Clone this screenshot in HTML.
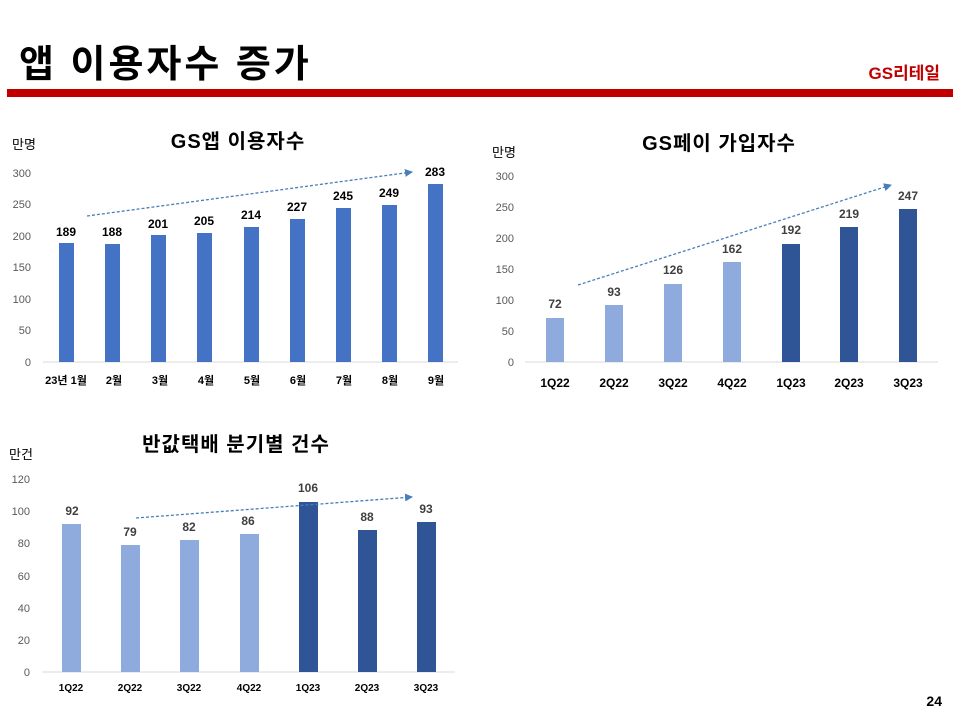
<!DOCTYPE html>
<html><head><meta charset="utf-8"><style>
html,body{margin:0;padding:0;background:#fff;}
svg{display:block;}
text{font-family:"Liberation Sans","Noto Sans CJK KR",sans-serif;}
.c{font-size:11px;font-weight:bold;fill:#000;}
.v{font-size:12px;font-weight:bold;fill:#000;}
.v2{font-size:12px;font-weight:bold;fill:#404040;}
.h{font-size:20px;font-weight:bold;fill:#000;letter-spacing:1px;}
.u{font-size:13px;fill:#000;}
</style></head><body>
<svg width="960" height="720" viewBox="0 0 960 720" xmlns="http://www.w3.org/2000/svg">
<defs><marker id="ar" markerWidth="8" markerHeight="8" refX="7" refY="4" orient="auto" markerUnits="userSpaceOnUse"><path d="M0,0 L8,4 L0,8 z" fill="#4a7ebb"/></marker></defs>
<text x="19" y="77" style="font-size:38px;font-weight:bold;fill:#000;letter-spacing:3px">앱 이용자수 증가</text>
<text x="940" y="79" text-anchor="end" style="font-size:17px;font-weight:bold;fill:#c00000">GS리테일</text>
<rect x="7" y="89" width="946" height="8" fill="#c00000"/>

<!-- Chart 1 -->
<text x="12" y="149" class="u">만명</text>
<text x="238" y="148" text-anchor="middle" class="h">GS앱 이용자수</text>
<g text-anchor="end" style="font-size:11px;fill:#595959">
<text x="31" y="366">0</text><text x="31" y="334">50</text><text x="31" y="303">100</text><text x="31" y="271">150</text><text x="31" y="240">200</text><text x="31" y="208">250</text><text x="31" y="177">300</text>
</g>
<line x1="43" y1="362" x2="458" y2="362" stroke="#d9d9d9"/>
<g fill="#4472c4">
<rect x="59" y="243" width="15" height="119"/><rect x="105" y="244" width="15" height="118"/><rect x="151" y="235" width="15" height="127"/><rect x="197" y="233" width="15" height="129"/><rect x="244" y="227" width="15" height="135"/><rect x="290" y="219" width="15" height="143"/><rect x="336" y="208" width="15" height="154"/><rect x="382" y="205" width="15" height="157"/><rect x="428" y="184" width="15" height="178"/>
</g>
<g class="v" text-anchor="middle">
<text x="66" y="236">189</text><text x="112" y="236">188</text><text x="158" y="228">201</text><text x="204" y="225">205</text><text x="251" y="219">214</text><text x="297" y="211">227</text><text x="343" y="200">245</text><text x="389" y="197">249</text><text x="435" y="176">283</text>
</g>
<g class="c" text-anchor="middle">
<text x="66" y="384">23년 1월</text><text x="114" y="384">2월</text><text x="160" y="384">3월</text><text x="206" y="384">4월</text><text x="252" y="384">5월</text><text x="298" y="384">6월</text><text x="344" y="384">7월</text><text x="390" y="384">8월</text><text x="436" y="384">9월</text>
</g>
<line x1="87" y1="216" x2="412" y2="172" stroke="#4a7ebb" stroke-width="1.3" stroke-dasharray="3,2" marker-end="url(#ar)"/>

<!-- Chart 2 -->
<text x="492" y="157" class="u">만명</text>
<text x="719" y="150" text-anchor="middle" class="h">GS페이 가입자수</text>
<g text-anchor="end" style="font-size:11px;fill:#595959">
<text x="514" y="366">0</text><text x="514" y="335">50</text><text x="514" y="304">100</text><text x="514" y="273">150</text><text x="514" y="242">200</text><text x="514" y="211">250</text><text x="514" y="180">300</text>
</g>
<line x1="525" y1="362" x2="938" y2="362" stroke="#d9d9d9"/>
<g fill="#8faadc">
<rect x="546" y="318" width="18" height="44"/><rect x="605" y="305" width="18" height="57"/><rect x="664" y="284" width="18" height="78"/><rect x="723" y="262" width="18" height="100"/>
</g>
<g fill="#2f5597">
<rect x="782" y="244" width="18" height="118"/><rect x="840" y="227" width="18" height="135"/><rect x="899" y="209" width="18" height="153"/>
</g>
<g class="v2" text-anchor="middle">
<text x="555" y="308">72</text><text x="614" y="296">93</text><text x="673" y="274">126</text><text x="732" y="253">162</text><text x="791" y="234">192</text><text x="849" y="218">219</text><text x="908" y="200">247</text>
</g>
<g class="c" text-anchor="middle" style="font-size:12px">
<text x="555" y="387">1Q22</text><text x="614" y="387">2Q22</text><text x="673" y="387">3Q22</text><text x="732" y="387">4Q22</text><text x="791" y="387">1Q23</text><text x="849" y="387">2Q23</text><text x="908" y="387">3Q23</text>
</g>
<line x1="578" y1="285" x2="891" y2="185" stroke="#4a7ebb" stroke-width="1.3" stroke-dasharray="3,2" marker-end="url(#ar)"/>

<!-- Chart 3 -->
<text x="9" y="459" class="u">만건</text>
<text x="236" y="451" text-anchor="middle" class="h">반값택배 분기별 건수</text>
<g text-anchor="end" style="font-size:11px;fill:#595959">
<text x="30" y="676">0</text><text x="30" y="644">20</text><text x="30" y="612">40</text><text x="30" y="580">60</text><text x="30" y="547">80</text><text x="30" y="515">100</text><text x="30" y="483">120</text>
</g>
<line x1="42" y1="672" x2="455" y2="672" stroke="#d9d9d9"/>
<g fill="#8faadc">
<rect x="62" y="524" width="19" height="148"/><rect x="121" y="545" width="19" height="127"/><rect x="180" y="540" width="19" height="132"/><rect x="240" y="534" width="19" height="138"/>
</g>
<g fill="#2f5597">
<rect x="299" y="502" width="19" height="170"/><rect x="358" y="530" width="19" height="142"/><rect x="417" y="522" width="19" height="150"/>
</g>
<g class="v2" text-anchor="middle">
<text x="72" y="515">92</text><text x="130" y="536">79</text><text x="189" y="531">82</text><text x="248" y="525">86</text><text x="308" y="492">106</text><text x="367" y="521">88</text><text x="426" y="513">93</text>
</g>
<g class="c" text-anchor="middle" style="font-size:10px">
<text x="71" y="691">1Q22</text><text x="130" y="691">2Q22</text><text x="189" y="691">3Q22</text><text x="249" y="691">4Q22</text><text x="308" y="691">1Q23</text><text x="367" y="691">2Q23</text><text x="426" y="691">3Q23</text>
</g>
<line x1="136" y1="518" x2="412" y2="497" stroke="#4a7ebb" stroke-width="1.3" stroke-dasharray="3,2" marker-end="url(#ar)"/>

<text x="942" y="706" text-anchor="end" style="font-size:14px;font-weight:bold;fill:#000">24</text>
</svg>
</body></html>
